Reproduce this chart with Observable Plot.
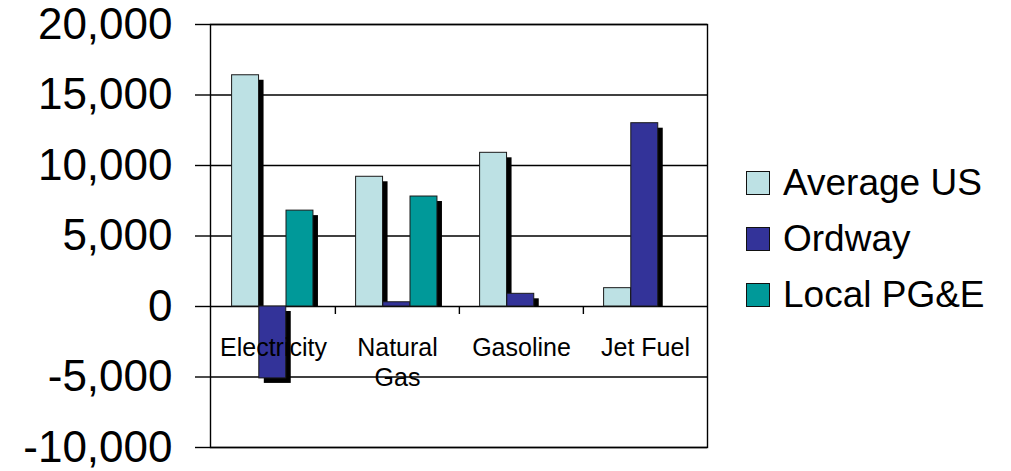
<!DOCTYPE html>
<html><head><meta charset="utf-8">
<script src="https://cdn.jsdelivr.net/npm/d3@7"></script>
<script src="https://cdn.jsdelivr.net/npm/@observablehq/plot@0.6"></script>
<style>
body{margin:0;background:#fff;font-family:"Liberation Sans",Arial,sans-serif;}
#wrap{position:relative;width:1011px;height:471px;overflow:hidden;}
#chart{position:absolute;left:0;top:0;}
#legend{position:absolute;left:746px;top:155px;}
.row{display:flex;align-items:center;height:56px;font-size:37px;color:#000;white-space:nowrap;}
.sw{width:22px;height:22px;border:1px solid #111;margin-right:13px;box-sizing:content-box;}
</style></head><body>
<div id="wrap"><div id="chart"></div><div id="legend"></div></div>
<script>
const categories = ["Electricity", "Natural Gas", "Gasoline", "Jet Fuel"];
const categoryLabels = ["Electricity", "Natural\nGas", "Gasoline", "Jet Fuel"];
const series = ["Average US", "Ordway", "Local PG&E"];
const averageUS = [16400, 9200, 10900, 1300];
const ordway = [-5100, 300, 900, 13000];
const localPGE = [6800, 7800, null, null];
const yTicks = [-10000, -5000, 0, 5000, 10000, 15000, 20000];
const colors = ["#BDE1E4", "#333399", "#009999"];

const seriesValues = [averageUS, ordway, localPGE];
const rows = [];
series.forEach((s, j) => categories.forEach((c, i) => {
  if (seriesValues[j][i] != null) rows.push({category: c, series: s, value: seriesValues[j][i]});
}));

const step = 497 / 4, barW = 27.2, outer = 20.6;
const insL = [0, 1, 2].map(j => outer + j * barW);
const insR = insL.map(l => step - l - barW);

const marks = [];
series.forEach((s, j) => {
  const data = rows.filter(d => d.series === s);
  marks.push(Plot.barY(data.filter(d => d.value > 0), {x: "category", y: "value", fill: "#000", dx: 5, dy: 5, insetLeft: insL[j], insetRight: insR[j], insetBottom: 5}));
  marks.push(Plot.barY(data.filter(d => d.value < 0), {x: "category", y: "value", fill: "#000", dx: 5, dy: 5, insetLeft: insL[j], insetRight: insR[j]}));
});
const gridAndFrame = [
  Plot.ruleY(yTicks, {y: d => d, stroke: "#000", strokeWidth: 1.4}),
  Plot.frame({stroke: "#000", strokeWidth: 1.4})
];
const faces = series.map((s, j) => Plot.barY(rows.filter(d => d.series === s), {
  x: "category", y: "value", fill: colors[j], stroke: "#1a1a1a", strokeWidth: 1,
  insetLeft: insL[j], insetRight: insR[j]
}));

const chart = Plot.plot({
  width: 1011, height: 471,
  marginLeft: 210, marginRight: 304, marginTop: 24, marginBottom: 24,
  style: {fontFamily: '"Liberation Sans", Arial, sans-serif', background: "white", color: "#000", overflow: "visible"},
  x: {type: "band", domain: categories, padding: 0, axis: null},
  y: {domain: [-10000, 20000], label: null},
  marks: [
    ...gridAndFrame,
    ...marks,
    ...faces,
    Plot.ruleX(categories.slice(1), {x: d => d, y1: () => 0, y2: () => 0, dx: -step / 2, insetBottom: -8, stroke: "#000", strokeWidth: 1.4}),
    Plot.axisY(yTicks, {tickSize: 15, tickPadding: 23, fontSize: 44, label: null, tickFormat: d => d.toLocaleString("en-US"), stroke: "#000", strokeWidth: 1.4}),
    Plot.text(categories, {x: d => d, y: () => 0, text: (d, i) => categoryLabels[i], dy: 28, lineAnchor: "top", fontSize: 25, lineHeight: 1.2, fill: "#000"})
  ]
});
document.getElementById("chart").appendChild(chart);

const legend = document.getElementById("legend");
series.forEach((s, j) => {
  const row = document.createElement("div");
  row.className = "row";
  const sw = document.createElement("span");
  sw.className = "sw";
  sw.style.background = colors[j];
  const t = document.createElement("span");
  t.textContent = s;
  row.appendChild(sw); row.appendChild(t);
  legend.appendChild(row);
});
</script>
</body></html>
